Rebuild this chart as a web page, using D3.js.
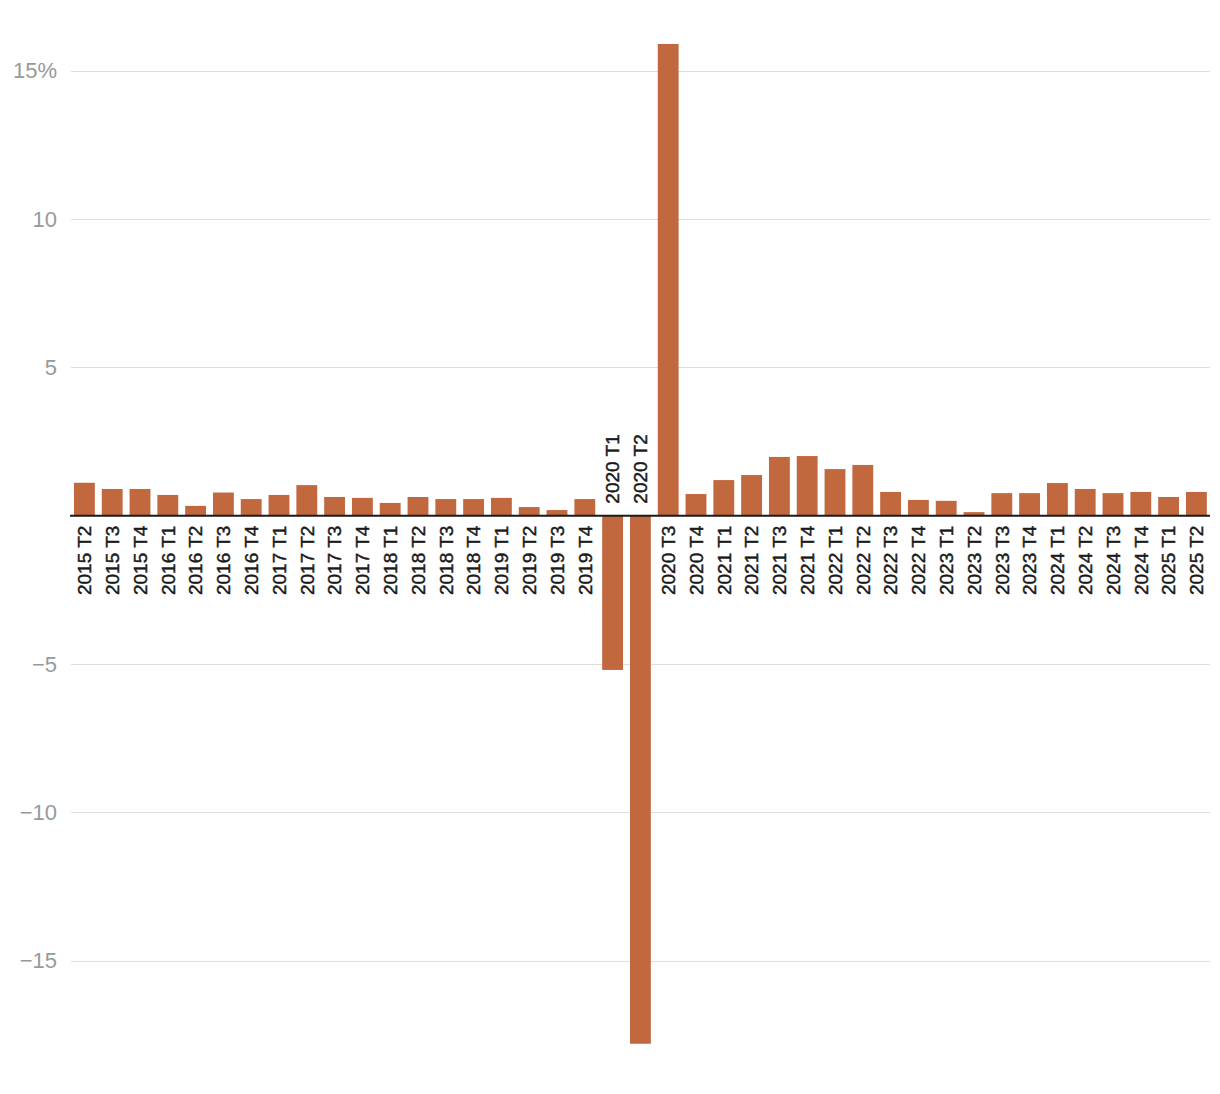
<!DOCTYPE html>
<html>
<head>
<meta charset="utf-8">
<script src="https://cdn.jsdelivr.net/npm/d3@7"></script>
<style>
  html, body { margin: 0; padding: 0; background: #fff; }
  svg { display: block; }
</style>
</head>
<body>
<svg id="chart" width="1220" height="1094"></svg>
<script>
const categories = [
  "2015 T2","2015 T3","2015 T4",
  "2016 T1","2016 T2","2016 T3","2016 T4",
  "2017 T1","2017 T2","2017 T3","2017 T4",
  "2018 T1","2018 T2","2018 T3","2018 T4",
  "2019 T1","2019 T2","2019 T3","2019 T4",
  "2020 T1","2020 T2","2020 T3","2020 T4",
  "2021 T1","2021 T2","2021 T3","2021 T4",
  "2022 T1","2022 T2","2022 T3","2022 T4",
  "2023 T1","2023 T2","2023 T3","2023 T4",
  "2024 T1","2024 T2","2024 T3","2024 T4",
  "2025 T1","2025 T2"
];
const values = [
  1.11, 0.90, 0.90,
  0.70, 0.33, 0.78, 0.56,
  0.70, 1.03, 0.63, 0.60,
  0.43, 0.63, 0.56, 0.56,
  0.60, 0.29, 0.19, 0.56,
  -5.2, -17.8, 15.9, 0.73,
  1.20, 1.37, 1.98, 2.01,
  1.57, 1.71, 0.80, 0.53,
  0.50, 0.12, 0.76, 0.76,
  1.10, 0.90, 0.76, 0.80,
  0.63, 0.80
];
const yTicks = [-15, -10, -5, 5, 10, 15];
const yTickLabels = ["\u221215", "\u221210", "\u22125", "5", "10", "15%"];

const data = categories.map((c, i) => ({ cat: c, val: values[i] }));

const svg = d3.select("#chart");
const x = d3.scaleBand()
  .domain(categories)
  .range([70.5, 1210.3])
  .paddingInner(0.25)
  .paddingOuter(0.125);
const y = d3.scaleLinear()
  .domain([-18, 16])
  .range([1049.7, 41]);

// gridlines + y labels
const yAxis = d3.axisLeft(y)
  .tickValues(yTicks)
  .tickSize(0)
  .tickFormat((d, i) => yTickLabels[i]);
const gy = svg.append("g").attr("transform", "translate(57,0)").call(yAxis);
gy.select(".domain").remove();
gy.selectAll("text")
  .attr("x", 0)
  .attr("fill", "#999")
  .style("font-family", "'Liberation Sans', Arial, sans-serif")
  .style("font-size", "22px")
  .attr("text-anchor", "end");

svg.append("g").selectAll("line")
  .data(yTicks)
  .join("line")
  .attr("x1", 71).attr("x2", 1210)
  .attr("y1", d => Math.round(y(d)) + 0.5)
  .attr("y2", d => Math.round(y(d)) + 0.5)
  .attr("stroke", "#dedede")
  .attr("stroke-width", 1);

// bars
svg.append("g").selectAll("rect")
  .data(data)
  .join("rect")
  .attr("x", d => x(d.cat))
  .attr("width", x.bandwidth())
  .attr("y", d => y(Math.max(0, d.val)))
  .attr("height", d => Math.abs(y(d.val) - y(0)))
  .attr("fill", "#c1683f");

// zero line
svg.append("line")
  .attr("x1", 70).attr("x2", 1210)
  .attr("y1", y(0)).attr("y2", y(0))
  .attr("stroke", "#1a1a1a")
  .attr("stroke-width", 2);

// category labels
svg.append("g").selectAll("text")
  .data(data)
  .join("text")
  .attr("transform", d => {
    const cx = x(d.cat) + x.bandwidth() / 2;
    const yy = d.val >= 0 ? y(0) + 10 : y(0) - 12;
    return `translate(${cx},${yy}) rotate(-90)`;
  })
  .attr("text-anchor", d => d.val >= 0 ? "end" : "start")
  .attr("dy", "0.36em")
  .attr("fill", "#1a1a1a")
  .attr("stroke", "#1a1a1a")
  .attr("stroke-width", 0.45)
  .style("font-family", "'Liberation Sans', Arial, sans-serif")
  .style("font-size", "19px")
  .text(d => d.cat);
</script>
</body>
</html>
